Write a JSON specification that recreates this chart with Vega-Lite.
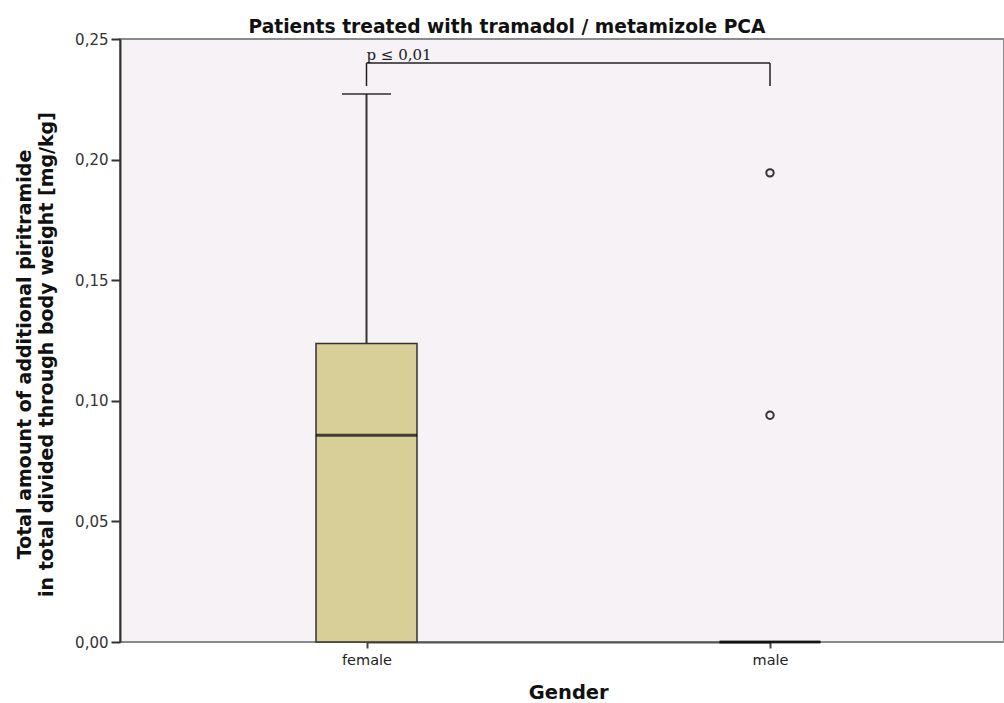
{
  "$schema": "https://vega.github.io/schema/vega-lite/v6.json",
  "width": 884,
  "height": 603,
  "autosize": {"type": "none"},
  "padding": {"left": 120, "top": 39, "right": 0, "bottom": 61},
  "background": "white",
  "title": {
    "text": "Patients treated with tramadol / metamizole PCA",
    "font": "DejaVu Sans",
    "fontSize": 18.7,
    "fontWeight": "bold",
    "color": "#111111",
    "anchor": "middle",
    "frame": "group",
    "dx": -55,
    "baseline": "alphabetic",
    "offset": -20
  },
  "config": {
    "view": {"fill": "#F6F2F6", "stroke": "#8a8a8a", "strokeWidth": 2},
    "axis": {"grid": false}
  },
  "datasets": {
    "box": [
      {"gender": "female", "lower": 0, "q1": 0, "median": 0.0857, "q3": 0.1238, "upper": 0.2272},
      {"gender": "male", "lower": 0, "q1": 0, "median": 0, "q3": 0, "upper": 0}
    ],
    "outliers": [
      {"gender": "male", "value": 0.1945},
      {"gender": "male", "value": 0.094}
    ],
    "bracket": [
      {"start": "female", "end": "male", "level": 0.24, "label": "p ≤ 0,01"}
    ],
    "bracketEnds": [
      {"gender": "female", "top": 0.24, "bottom": 0.2305},
      {"gender": "male", "top": 0.24, "bottom": 0.2305}
    ]
  },
  "layer": [
    {
      "data": {"name": "box"},
      "mark": {"type": "rule", "color": "#333333", "strokeWidth": 2},
      "encoding": {
        "x": {
          "field": "gender",
          "type": "nominal",
          "scale": {"type": "point", "range": [246.5, 650], "padding": 0},
          "sort": ["female", "male"],
          "axis": {
            "title": "Gender",
            "titleFont": "DejaVu Sans",
            "titleFontSize": 19.5,
            "titleFontWeight": "bold",
            "titleColor": "#111111",
            "titleBaseline": "alphabetic",
            "titleY": 56,
            "labelAngle": 0,
            "labelFont": "DejaVu Sans",
            "labelFontSize": 14.5,
            "labelColor": "#222222",
            "labelPadding": 5,
            "tickSize": 6,
            "tickWidth": 2,
            "tickColor": "#444444",
            "domainColor": "#555555",
            "domainWidth": 2
          }
        },
        "y": {
          "field": "q3",
          "type": "quantitative",
          "scale": {"domain": [0, 0.25], "nice": false, "zero": true},
          "axis": {
            "values": [0, 0.05, 0.1, 0.15, 0.2, 0.25],
            "labelExpr": "replace(format(datum.value, '.2f'), '.', ',')",
            "title": ["Total amount of additional piritramide", "in total divided through body weight [mg/kg]"],
            "titleFont": "DejaVu Sans",
            "titleFontSize": 19,
            "titleFontWeight": "bold",
            "titleColor": "#111111",
            "titleAngle": -90,
            "titleX": -96,
            "titleY": 315,
            "titleAlign": "center",
            "titleBaseline": "middle",
            "titleLineHeight": 22,
            "labelFont": "DejaVu Sans",
            "labelFontSize": 15,
            "labelColor": "#333333",
            "labelPadding": 3,
            "tickSize": 9,
            "tickWidth": 2,
            "tickColor": "#333333",
            "domainColor": "#333333",
            "domainWidth": 2
          }
        },
        "y2": {"field": "upper"}
      }
    },
    {
      "data": {"name": "box"},
      "transform": [{"filter": "datum.upper > datum.q3"}],
      "mark": {"type": "tick", "color": "#222222", "size": 49, "thickness": 2},
      "encoding": {
        "x": {"field": "gender", "type": "nominal"},
        "y": {"field": "upper", "type": "quantitative"}
      }
    },
    {
      "data": {"name": "box"},
      "mark": {"type": "bar", "size": 101, "fill": "#D7CF97", "stroke": "#333333", "strokeWidth": 1.5},
      "encoding": {
        "x": {"field": "gender", "type": "nominal"},
        "y": {"field": "q1", "type": "quantitative"},
        "y2": {"field": "q3"}
      }
    },
    {
      "data": {"name": "box"},
      "mark": {"type": "tick", "color": "#000000", "size": 101, "thickness": 3},
      "encoding": {
        "x": {"field": "gender", "type": "nominal"},
        "y": {"field": "median", "type": "quantitative"}
      }
    },
    {
      "data": {"name": "outliers"},
      "mark": {"type": "point", "shape": "circle", "filled": false, "size": 55, "stroke": "#333333", "strokeWidth": 2, "opacity": 1},
      "encoding": {
        "x": {"field": "gender", "type": "nominal"},
        "y": {"field": "value", "type": "quantitative"}
      }
    },
    {
      "data": {"name": "bracket"},
      "mark": {"type": "rule", "color": "#222222", "strokeWidth": 1.5},
      "encoding": {
        "x": {"field": "start", "type": "nominal"},
        "x2": {"field": "end"},
        "y": {"field": "level", "type": "quantitative"}
      }
    },
    {
      "data": {"name": "bracketEnds"},
      "mark": {"type": "rule", "color": "#222222", "strokeWidth": 1.5},
      "encoding": {
        "x": {"field": "gender", "type": "nominal"},
        "y": {"field": "top", "type": "quantitative"},
        "y2": {"field": "bottom"}
      }
    },
    {
      "data": {"name": "bracket"},
      "mark": {"type": "text", "font": "DejaVu Serif", "fontSize": 15, "color": "#1a1a2a", "align": "left", "baseline": "alphabetic", "dx": 0, "dy": -3},
      "encoding": {
        "x": {"field": "start", "type": "nominal"},
        "y": {"field": "level", "type": "quantitative"},
        "text": {"field": "label"}
      }
    }
  ]
}
